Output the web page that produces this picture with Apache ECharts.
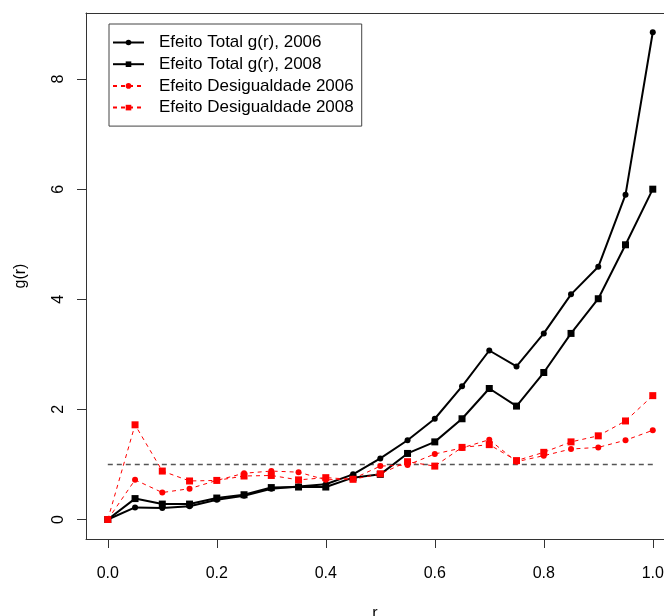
<!DOCTYPE html>
<html>
<head>
<meta charset="utf-8">
<script src="https://cdn.jsdelivr.net/npm/echarts@6/dist/echarts.min.js"></script>
<style>
  html, body { margin: 0; padding: 0; background: #fff; }
  #chart { width: 664px; height: 616px; }
</style>
</head>
<body>
<div id="chart"></div>
<script>
// valores de r
const rValues = [0, 0.05, 0.1, 0.15, 0.2, 0.25, 0.3, 0.35, 0.4, 0.45, 0.5,
  0.55, 0.6, 0.65, 0.7, 0.75, 0.8, 0.85, 0.9, 0.95, 1.0];

// Efeito Total g(r)
const total2006 = [0, 0.22, 0.21, 0.24, 0.36, 0.43, 0.56, 0.60, 0.64, 0.82, 1.11,
  1.44, 1.83, 2.42, 3.07, 2.78, 3.38, 4.09, 4.59, 5.90, 8.85];
const total2008 = [0, 0.38, 0.28, 0.28, 0.39, 0.45, 0.58, 0.59, 0.59, 0.76, 0.82,
  1.20, 1.41, 1.83, 2.38, 2.06, 2.67, 3.38, 4.01, 4.99, 6.00];

// Efeito Desigualdade
const desig2006 = [0, 0.72, 0.49, 0.56, 0.71, 0.84, 0.88, 0.86, 0.72, 0.74, 0.97,
  0.99, 1.19, 1.30, 1.45, 1.05, 1.16, 1.28, 1.31, 1.44, 1.62];
const desig2008 = [0, 1.72, 0.88, 0.70, 0.71, 0.79, 0.80, 0.72, 0.76, 0.73, 0.83,
  1.05, 0.97, 1.31, 1.36, 1.07, 1.22, 1.41, 1.52, 1.79, 2.25];

// linha de referência g(r) = 1
const refLine = [[0, 1], [1, 1]];

const xTicks = [0, 0.2, 0.4, 0.6, 0.8, 1.0];
const yTicks = [0, 2, 4, 6, 8];

const font = 'Liberation Sans, Arial, sans-serif';

function pairs(vals) {
  return rValues.map((r, i) => [r, vals[i]]);
}

const chart = echarts.init(document.getElementById('chart'), null, { renderer: 'canvas' });

// a caixa do gráfico passa da borda direita: o lado direito não aparece
const boxLine = { show: true, onZero: false, lineStyle: { color: '#333', width: 1 } };

chart.setOption({
  animation: false,
  backgroundColor: '#fff',
  textStyle: { fontFamily: font },
  grid: { left: 86, top: 13, right: 0, bottom: 77, outerBoundsMode: 'none', containLabel: false },
  legend: {
    orient: 'vertical',
    left: 109, top: 24,
    padding: [10, 8, 10, 3],
    borderColor: '#444', borderWidth: 1,
    itemWidth: 31, itemHeight: 7, itemGap: 4.7,
    textStyle: { fontSize: 17, lineHeight: 16, color: '#000', padding: [0, 0, 0, 10], fontFamily: font },
    data: ['Efeito Total g(r), 2006', 'Efeito Total g(r), 2008',
      'Efeito Desigualdade 2006', 'Efeito Desigualdade 2008']
  },
  xAxis: [{
    type: 'value', min: -0.04, max: 1.0206,
    name: 'r', nameLocation: 'middle', nameGap: 67,
    nameTextStyle: { fontSize: 16, color: '#000' },
    splitLine: { show: false },
    axisLine: boxLine,
    axisTick: { show: true, customValues: xTicks, length: 9, lineStyle: { color: '#333' } },
    axisLabel: {
      customValues: xTicks, margin: 27, fontSize: 16, color: '#000',
      formatter: v => v.toFixed(1)
    }
  }, {
    type: 'value', position: 'top', min: -0.04, max: 1.0206,
    splitLine: { show: false },
    axisLine: boxLine,
    axisTick: { show: false },
    axisLabel: { show: false }
  }],
  yAxis: {
    type: 'value', min: -0.354, max: 9.2,
    name: 'g(r)', nameLocation: 'middle', nameGap: 57, nameRotate: 90,
    nameTextStyle: { fontSize: 16, color: '#000' },
    splitLine: { show: false },
    axisLine: boxLine,
    axisTick: { show: true, customValues: yTicks, length: 9, lineStyle: { color: '#333' } },
    axisLabel: {
      customValues: yTicks, margin: 19, fontSize: 16, color: '#000', rotate: 90
    }
  },
  series: [
    {
      name: 'ref', type: 'line', data: refLine, symbol: 'none', silent: true,
      lineStyle: { color: '#555', width: 1.5, type: [5, 4] }
    },
    {
      name: 'Efeito Total g(r), 2006', type: 'line', data: pairs(total2006),
      symbol: 'circle', symbolSize: 6, color: '#000',
      lineStyle: { color: '#000', width: 2 }
    },
    {
      name: 'Efeito Total g(r), 2008', type: 'line', data: pairs(total2008),
      symbol: 'rect', symbolSize: 7, color: '#000',
      lineStyle: { color: '#000', width: 2 }
    },
    {
      name: 'Efeito Desigualdade 2006', type: 'line', data: pairs(desig2006),
      symbol: 'circle', symbolSize: 6, color: '#ff0000',
      lineStyle: { color: '#ff0000', width: 1, type: [4, 4] }
    },
    {
      name: 'Efeito Desigualdade 2008', type: 'line', data: pairs(desig2008),
      symbol: 'rect', symbolSize: 7, color: '#ff0000',
      lineStyle: { color: '#ff0000', width: 1, type: [4, 4] }
    }
  ]
});
</script>
</body>
</html>
